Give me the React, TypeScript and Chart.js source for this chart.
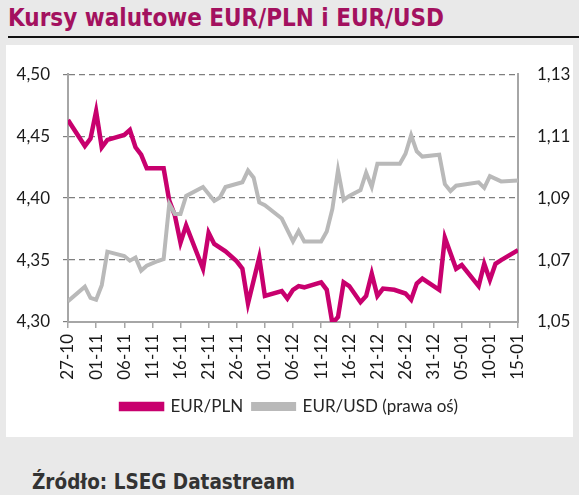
import React, { useEffect, useRef } from 'react';
import { Chart, registerables } from 'chart.js';

Chart.register(...registerables);

const titleText = 'Kursy walutowe EUR/PLN i EUR/USD';
const sourceText = 'Źródło: LSEG Datastream';
const seriesNames = ['EUR/PLN', 'EUR/USD (prawa oś)'];

const startDate = '2024-10-27';
const xTickLabels = ['27-10', '01-11', '06-11', '11-11', '16-11', '21-11', '26-11', '01-12', '06-12', '11-12', '16-12', '21-12', '26-12', '31-12', '05-01', '10-01', '15-01'];

const plnDates = ['2024-10-27', '2024-10-30', '2024-10-31', '2024-11-01', '2024-11-02', '2024-11-03', '2024-11-06', '2024-11-07', '2024-11-08', '2024-11-09', '2024-11-10', '2024-11-13', '2024-11-14', '2024-11-15', '2024-11-16', '2024-11-17', '2024-11-20', '2024-11-21', '2024-11-22', '2024-11-24', '2024-11-26', '2024-11-27', '2024-11-28', '2024-11-30', '2024-12-01', '2024-12-04', '2024-12-05', '2024-12-06', '2024-12-07', '2024-12-08', '2024-12-11', '2024-12-12', '2024-12-13', '2024-12-14', '2024-12-15', '2024-12-16', '2024-12-18', '2024-12-19', '2024-12-20', '2024-12-21', '2024-12-22', '2024-12-24', '2024-12-26', '2024-12-27', '2024-12-28', '2024-12-29', '2025-01-01', '2025-01-02', '2025-01-04', '2025-01-05', '2025-01-08', '2025-01-09', '2025-01-10', '2025-01-11', '2025-01-12', '2025-01-15'];
const plnValues = [4.463, 4.442, 4.448, 4.470, 4.441, 4.447, 4.451, 4.455, 4.441, 4.435, 4.424, 4.424, 4.398, 4.386, 4.364, 4.378, 4.343, 4.372, 4.363, 4.357, 4.349, 4.343, 4.315, 4.352, 4.321, 4.325, 4.319, 4.326, 4.329, 4.328, 4.332, 4.326, 4.299, 4.304, 4.332, 4.329, 4.316, 4.321, 4.339, 4.321, 4.327, 4.326, 4.323, 4.318, 4.331, 4.335, 4.326, 4.368, 4.343, 4.346, 4.329, 4.347, 4.334, 4.347, 4.350, 4.358];

const usdDates = ['2024-10-27', '2024-10-30', '2024-10-31', '2024-11-01', '2024-11-02', '2024-11-03', '2024-11-06', '2024-11-07', '2024-11-08', '2024-11-09', '2024-11-10', '2024-11-12', '2024-11-13', '2024-11-14', '2024-11-15', '2024-11-16', '2024-11-17', '2024-11-20', '2024-11-22', '2024-11-23', '2024-11-24', '2024-11-27', '2024-11-28', '2024-11-29', '2024-11-30', '2024-12-01', '2024-12-04', '2024-12-06', '2024-12-07', '2024-12-08', '2024-12-11', '2024-12-12', '2024-12-13', '2024-12-14', '2024-12-15', '2024-12-16', '2024-12-18', '2024-12-19', '2024-12-20', '2024-12-21', '2024-12-25', '2024-12-26', '2024-12-27', '2024-12-28', '2024-12-29', '2025-01-01', '2025-01-02', '2025-01-03', '2025-01-04', '2025-01-08', '2025-01-09', '2025-01-10', '2025-01-12', '2025-01-15'];
const usdValues = [1.0567, 1.0614, 1.0578, 1.0572, 1.0619, 1.0727, 1.0713, 1.0698, 1.0708, 1.0666, 1.0682, 1.0697, 1.0703, 1.0881, 1.0849, 1.0849, 1.0907, 1.0936, 1.0891, 1.0902, 1.0936, 1.0951, 1.0989, 1.0966, 1.0886, 1.0877, 1.0834, 1.0760, 1.0794, 1.0760, 1.0760, 1.0792, 1.0865, 1.0990, 1.0894, 1.0907, 1.0926, 1.0982, 1.0936, 1.1011, 1.1011, 1.1043, 1.1103, 1.1051, 1.1034, 1.1040, 1.0945, 1.0923, 1.0940, 1.0951, 1.0933, 1.0971, 1.0954, 1.0957];

const leftMin = 4.3;
const leftMax = 4.5;
const leftStep = 0.05;
const rightMin = 1.05;
const rightMax = 1.13;
const rightStep = 0.02;
const tickEveryDays = 5;

function toUtc(d: string) {
  const [y, m, dd] = d.split('-').map(Number);
  return Date.UTC(y, m - 1, dd);
}
function dayOffset(d: string) {
  return Math.round((toUtc(d) - toUtc(startDate)) / 86400000);
}
function pts(dates: string[], values: number[]) {
  return dates.map((d, i) => ({ x: dayOffset(d), y: values[i] }));
}
const fmt = (v: number) => v.toFixed(2).replace('.', ',');

const PINK = '#c8006e';
const GREY = '#b9b9b9';
const AXIS = '#a6a6a6';
const FONT = "Lato, 'Open Sans', sans-serif";

export default function App() {
  const ref = useRef<HTMLCanvasElement | null>(null);

  useEffect(() => {
    if (!ref.current) return;
    const chart = new Chart(ref.current, {
      type: 'line',
      data: {
        datasets: [
          {
            label: seriesNames[0],
            data: pts(plnDates, plnValues),
            borderColor: PINK,
            backgroundColor: PINK,
            borderWidth: 4.5,
            pointRadius: 0,
            tension: 0,
            yAxisID: 'y',
            order: 1,
          },
          {
            label: seriesNames[1],
            data: pts(usdDates, usdValues),
            borderColor: GREY,
            backgroundColor: GREY,
            borderWidth: 4,
            pointRadius: 0,
            tension: 0,
            yAxisID: 'y1',
            order: 0,
          },
        ],
      },
      options: {
        animation: false,
        responsive: false,
        maintainAspectRatio: false,
        layout: { padding: { top: 23, left: 0, right: 0, bottom: 12 } },
        plugins: {
          tooltip: { enabled: false },
          legend: {
            position: 'bottom',
            labels: {
              boxWidth: 41,
              boxHeight: 5,
              padding: 10,
              color: '#262626',
              font: { family: FONT, size: 17 },
              sort: (a: any, b: any) => a.datasetIndex - b.datasetIndex,
            },
          },
        },
        scales: {
          x: {
            type: 'linear',
            min: 0,
            max: (xTickLabels.length - 1) * tickEveryDays,
            afterFit: (s: any) => { s.height = 66; },
            ticks: {
              stepSize: tickEveryDays,
              autoSkip: false,
              maxRotation: 90,
              minRotation: 90,
              padding: 6,
              color: '#1a1a1a',
              font: { family: FONT, size: 17 },
              callback: (v: any) => {
                const idx = Math.round(Number(v) / tickEveryDays);
                return xTickLabels[idx] ?? '';
              },
            },
            grid: { drawOnChartArea: false, drawTicks: true, tickLength: 6, color: AXIS, lineWidth: 1.5 },
            border: { display: true, color: AXIS, width: 2 },
          },
          y: {
            position: 'left',
            min: leftMin,
            max: leftMax,
            afterFit: (s: any) => { s.width = 62; },
            ticks: {
              stepSize: leftStep,
              padding: 13,
              color: '#1a1a1a',
              font: { family: FONT, size: 17 },
              callback: (v: any) => fmt(Number(v)),
            },
            grid: {
              color: (ctx: any) => (ctx.tick && Math.abs(ctx.tick.value - leftMin) < 1e-6 ? 'rgba(0,0,0,0)' : '#7f7f7f'),
              lineWidth: 1.2,
              tickLength: 5,
              tickBorderDash: [6, 4],
              tickColor: '#7f7f7f',
            },
            border: { display: true, color: AXIS, width: 2, dash: [6, 4] },
          },
          y1: {
            position: 'right',
            min: rightMin,
            max: rightMax,
            afterFit: (s: any) => { s.width = 55; },
            ticks: {
              stepSize: rightStep,
              padding: 19,
              color: '#1a1a1a',
              font: { family: FONT, size: 17 },
              callback: (v: any) => fmt(Number(v)),
            },
            grid: { drawOnChartArea: false, drawTicks: false },
            border: { display: true, color: AXIS, width: 2 },
          },
        },
      },
    });
    return () => chart.destroy();
  }, []);

  return (
    <div style={{ position: 'absolute', left: 0, top: 0, width: 579, height: 495, background: '#e9e9e9', overflow: 'hidden' }}>
      <div
        style={{
          position: 'absolute',
          left: 8,
          top: 2,
          fontFamily: "'DejaVu Sans Condensed', 'DejaVu Sans', sans-serif",
          fontStretch: 'condensed',
          fontWeight: 'bold',
          fontSize: 24,
          lineHeight: '32px',
          color: '#a3115f',
          whiteSpace: 'nowrap',
        }}
      >
        {titleText}
      </div>
      <div style={{ position: 'absolute', left: 8, top: 36, width: 571, height: 2, background: '#111' }} />
      <div style={{ position: 'absolute', left: 6, top: 45, width: 567, height: 392, background: '#ffffff' }}>
        <canvas ref={ref} width={567} height={392} style={{ display: 'block', width: 567, height: 392 }} />
      </div>
      <div
        style={{
          position: 'absolute',
          left: 32,
          top: 470,
          fontFamily: "'DejaVu Sans Condensed', 'DejaVu Sans', sans-serif",
          fontStretch: 'condensed',
          fontWeight: 'bold',
          fontSize: 20.5,
          lineHeight: '24px',
          color: '#333333',
          whiteSpace: 'nowrap',
        }}
      >
        {sourceText}
      </div>
    </div>
  );
}
